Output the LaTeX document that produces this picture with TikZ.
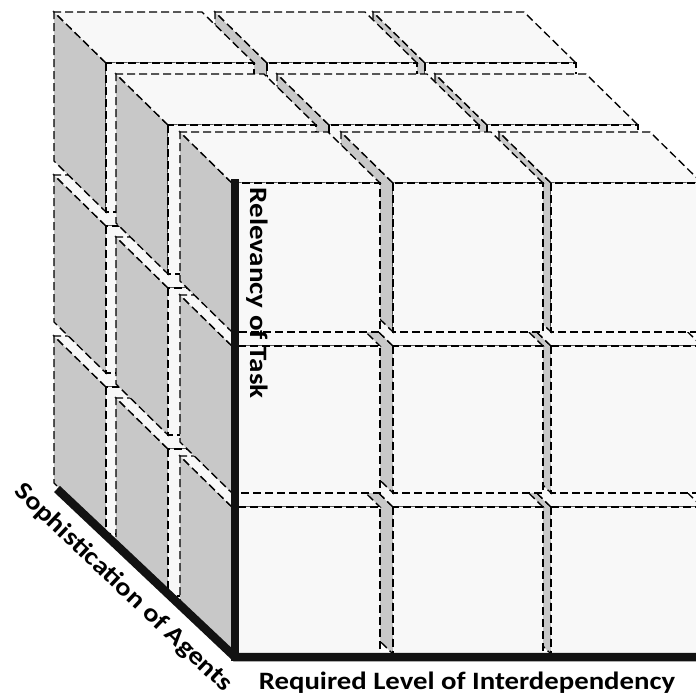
\documentclass[tikz,border=0pt]{standalone}
\usepackage{graphicx}
\usepackage{fontspec}
\setmainfont{Carlito}
\definecolor{facelight}{HTML}{F8F8F8}
\definecolor{sidegray}{HTML}{C8C8C8}
\begin{document}
\begin{tikzpicture}[x=1pt,y=-1pt,
  edge/.style={draw=black, line width=1.35pt, dash pattern=on 8pt off 4pt},
  frontface/.style={edge, fill=facelight},
  topface/.style={edge, fill=facelight},
  sideface/.style={edge, fill=sidegray},
  axisline/.style={line width=8.5pt, draw=black!93, line join=miter},
  lbl/.style={font=\bfseries\fontsize{25}{30}\selectfont, inner sep=0pt}]
\useasboundingbox (0,0) rectangle (696,696);
\fill[white] (0,0) rectangle (696,696);
\begin{scope}
\clip (0,0) rectangle (696,696);
\foreach \lx/\ly in {-126/-120, -64/-58, 0/0} {
  \foreach \ry/\rh in {507/147, 346/147, 183/149} {
    \foreach \cx/\cw in {551/151, 393/150, 232/148} {
      \pgfmathsetmacro\X{\cx+\lx}
      \pgfmathsetmacro\Y{\ry+\ly}
      \filldraw[sideface] (\X,\Y) -- ++(-52,-51) -- ++(0,\rh) -- ++(52,51) -- cycle;
      \filldraw[topface] (\X,\Y) -- ++(-52,-51) -- ++(\cw,0) -- ++(52,51) -- cycle;
      \filldraw[frontface] (\X,\Y) rectangle ++(\cw,\rh);
    }
  }
}
\end{scope}
\coordinate (o) at (235,657);
\coordinate (ytop) at (235,183);
\coordinate (xend) at (700,657);
\coordinate (zend) at (57,489);
\draw[axisline] (zend) -- (o) -- (xend);
\draw[axisline, line cap=rect] (ytop) -- (o);
\node[lbl, rotate=-90] (relev) at (257,293) {\scalebox{1.16}[1]{Relevancy of Task}};
\node[lbl] (interdep) at (467,683) {\scalebox{1.15}[1]{Required Level of Interdependency}};
\node[lbl, rotate=-43.5] (soph) at (123,588) {\scalebox{1.16}[1]{Sophistication of Agents}};
\end{tikzpicture}
\end{document}
